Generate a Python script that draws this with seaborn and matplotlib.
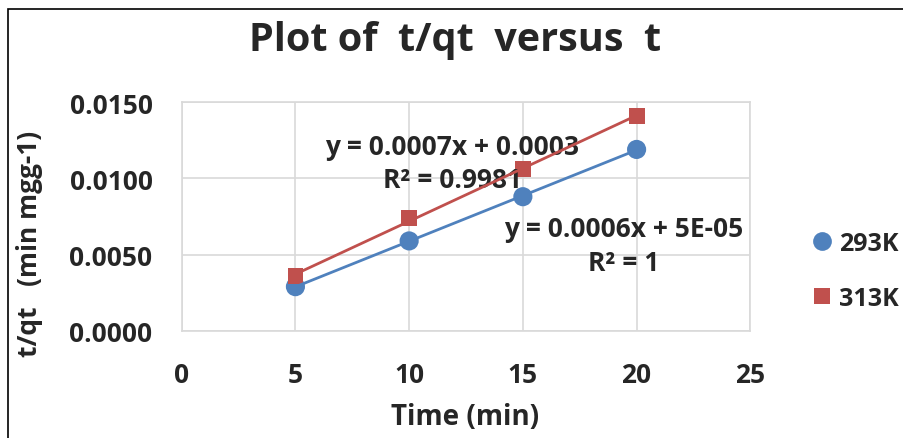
import numpy as np
import pandas as pd
import matplotlib
matplotlib.use("Agg")
import matplotlib.pyplot as plt
from matplotlib.lines import Line2D
from matplotlib.patches import Rectangle
import seaborn as sns

# ---- data ----
time_min = [5, 10, 15, 20]
t_qt_293K = [0.0029, 0.0059, 0.0088, 0.0119]
t_qt_313K = [0.0036, 0.0074, 0.0106, 0.0141]
series_names = ["293K", "313K"]
x_ticks = [0, 5, 10, 15, 20, 25]
y_ticks = [0.0, 0.005, 0.010, 0.015]
eq_293 = "y = 0.0006x + 5E-05\nR² = 1"
eq_313 = "y = 0.0007x + 0.0003\nR² = 0.9981"

sns.set_theme(style="white")
plt.rcParams['font.family'] = ['Open Sans', 'DejaVu Sans']
plt.rcParams['font.weight'] = 'bold'

df = pd.DataFrame({
    "t": time_min * 2,
    "v": t_qt_293K + t_qt_313K,
    "s": [series_names[0]] * 4 + [series_names[1]] * 4,
})

blue = "#4F81BD"
red = "#C0504D"
grid_c = "#D9D9D9"
fs = 19

fig = plt.figure(figsize=(9.04, 4.39), dpi=100)
ax = fig.add_axes([0.201, 0.244, 0.629, 0.521])

# markers
sns.scatterplot(data=df[df.s == "293K"], x="t", y="v", ax=ax, color=blue,
                marker="o", s=190, edgecolor="none", zorder=3, legend=False)
sns.scatterplot(data=df[df.s == "313K"], x="t", y="v", ax=ax, color=red,
                marker="s", s=130, edgecolor="none", zorder=3, legend=False)
# trendlines
sns.regplot(x=time_min, y=t_qt_293K, ax=ax, scatter=False, ci=None, truncate=True,
            line_kws=dict(color=blue, lw=2.0, zorder=4))
sns.regplot(x=time_min, y=t_qt_313K, ax=ax, scatter=False, ci=None, truncate=True,
            line_kws=dict(color=red, lw=2.0, zorder=4))

ax.set_xlim(0, 25)
ax.set_ylim(0, 0.015)
ax.set_xticks(x_ticks)
ax.set_yticks(y_ticks)
ax.set_xticklabels([str(v) for v in x_ticks], fontsize=fs, fontweight='bold')
ax.set_yticklabels([f"{v:.4f}" for v in y_ticks], fontsize=fs, fontweight='bold')
ax.tick_params(axis='x', pad=22, length=0)
ax.tick_params(axis='y', pad=21, length=0)
ax.grid(True, color=grid_c, lw=1.2)
ax.set_axisbelow(True)
for sp in ax.spines.values():
    sp.set_color(grid_c)
    sp.set_linewidth(1.2)

ax.set_xlabel("Time (min)", fontsize=20, fontweight='bold')
ax.xaxis.set_label_coords(0.498, -0.31)
ax.xaxis.label.set_va('top')
ax.set_ylabel("t/qt   (min mgg-1)", fontsize=19, fontweight='bold')
ax.yaxis.set_label_coords(-0.244, 0.384)

fig.text(0.503, 0.907, "Plot of  t/qt  versus  t", ha='center', va='center',
         fontsize=28.5, fontweight='bold')

ax.text(11.9, 0.0110, eq_313, ha='center', va='center', fontsize=fs,
        fontweight='bold', linespacing=1.3)
ax.text(19.45, 0.0056, eq_293, ha='center', va='center', fontsize=fs,
        fontweight='bold', linespacing=1.3)

handles = [
    Line2D([], [], marker='o', color=blue, ls='none', markersize=13.5, markeredgewidth=0),
    Line2D([], [], marker='s', color=red, ls='none', markersize=11, markeredgewidth=0),
]
fig.legend(handles, series_names, loc='center left', bbox_to_anchor=(0.884, 0.38),
           frameon=False, prop={'weight': 'bold', 'size': 18},
           labelspacing=1.2, handletextpad=0.2, handlelength=1.0,
           borderaxespad=0)

fig.patches.append(Rectangle((8 / 904, -0.5), 2.0, 0.5 + (1 - 10 / 439),
                             transform=fig.transFigure, fill=False,
                             edgecolor='black', lw=1.2))

fig.savefig("out.png", dpi=100, facecolor='white')
